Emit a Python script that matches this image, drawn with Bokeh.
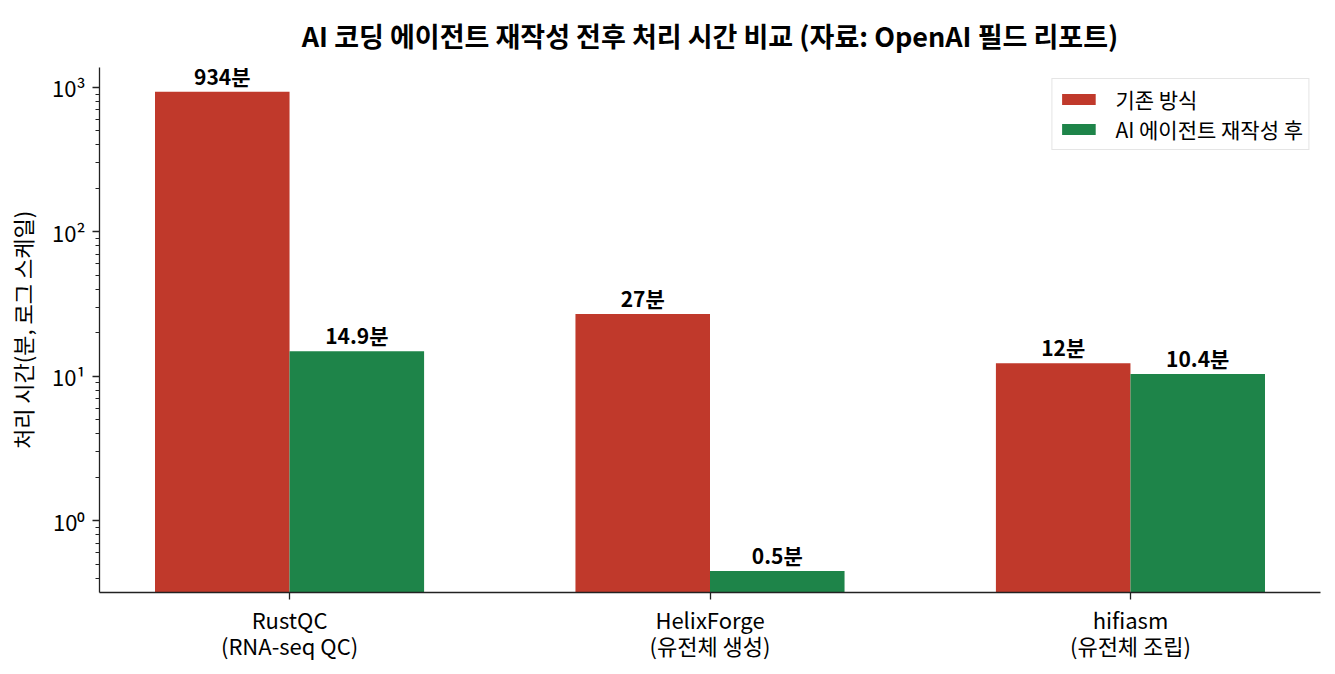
from bokeh.plotting import figure
from bokeh.models import Range1d, FixedTicker, LogTicker, Legend, LegendItem, ColumnDataSource, LinearAxis
from bokeh.core.properties import value
from bokeh.embed import file_html
from bokeh.resources import INLINE

cat_names = ["RustQC", "HelixForge", "hifiasm"]
cat_subtitles = ["(RNA-seq QC)", "(유전체 생성)", "(유전체 조립)"]
before_vals = [934, 27, 12.3]
after_vals = [14.9, 0.45, 10.4]
before_labels = ["934분", "27분", "12분"]
after_labels = ["14.9분", "0.5분", "10.4분"]
series_names = ["기존 방식", "AI 에이전트 재작성 후"]
colors = ["#c0392b", "#1e8449"]
title_text = "AI 코딩 에이전트 재작성 전후 처리 시간 비교 (자료: OpenAI 필드 리포트)"
y_label = "처리 시간(분, 로그 스케일)"
y_ticks = [1, 10, 100, 1000]
y_tick_labels = ["10⁰", "10¹", "10²", "10³"]

FONT = "Noto Sans CJK KR"
bar_w = 0.32
xs = list(range(len(cat_names)))

p = figure(width=1335, height=674, y_axis_type="log",
           x_range=Range1d(-0.452, 2.452), y_range=Range1d(0.319, 1374),
           output_backend="svg", toolbar_location=None,
           min_border_left=99, min_border_right=15, min_border_top=66, min_border_bottom=82)

p.title.text = title_text
p.title.align = "center"
p.title.text_font = FONT
p.title.text_font_style = "bold"
p.title.text_font_size = "27px"
p.title.text_color = "#000000"
p.title.standoff = 26

src_b = ColumnDataSource(dict(x=[x - bar_w / 2 for x in xs], top=before_vals, lab=before_labels))
src_a = ColumnDataSource(dict(x=[x + bar_w / 2 for x in xs], top=after_vals, lab=after_labels))

r1 = p.vbar(x="x", top="top", bottom=0.001, width=bar_w, source=src_b, fill_color=colors[0], line_color=None)
r2 = p.vbar(x="x", top="top", bottom=0.001, width=bar_w, source=src_a, fill_color=colors[1], line_color=None)

for src in (src_b, src_a):
    p.text(x="x", y="top", text="lab", source=src, text_align="center", text_baseline="bottom",
           y_offset=-1, text_font=value(FONT), text_font_style="bold", text_font_size="21px",
           text_color="#000000")

legend = Legend(items=[LegendItem(label=series_names[0], renderers=[r1]),
                       LegendItem(label=series_names[1], renderers=[r2])],
                location="top_right", label_text_font=FONT, label_text_font_size="21px",
                label_text_color="#000000",
                glyph_width=42, glyph_height=14, label_standoff=16, spacing=0,
                padding=5, margin=11, border_line_color="#cccccc", border_line_width=1.5,
                background_fill_alpha=1.0)
p.add_layout(legend)

p.xaxis.ticker = FixedTicker(ticks=xs)
p.xaxis.major_label_overrides = {i: c for i, c in zip(xs, cat_names)}
p.xaxis.major_label_standoff = 3
p.yaxis.ticker = LogTicker(num_minor_ticks=10)
p.yaxis.major_label_overrides = {t: l for t, l in zip(y_ticks, y_tick_labels)}
p.yaxis.axis_label = y_label
p.yaxis.major_label_standoff = 7
p.yaxis.axis_label_standoff = 11

sub_axis = LinearAxis(ticker=FixedTicker(ticks=xs),
                      major_label_overrides={i: c for i, c in zip(xs, cat_subtitles)},
                      axis_line_color=None, major_tick_line_color=None, minor_tick_line_color=None,
                      major_label_standoff=-15)
p.add_layout(sub_axis, "below")

for ax in (p.xaxis[0], p.yaxis[0], sub_axis):
    ax.major_label_text_font = FONT
    ax.major_label_text_font_size = "22px"
    ax.major_label_text_color = "#000000"
    ax.axis_label_text_font = FONT
    ax.axis_label_text_font_size = "22px"
    ax.axis_label_text_font_style = "normal"
    ax.axis_label_text_color = "#000000"

for ax in (p.xaxis[0], p.yaxis[0]):
    ax.axis_line_color = "#222222"
    ax.axis_line_width = 1.3
    ax.major_tick_line_color = "#222222"
    ax.minor_tick_line_color = "#222222"
    ax.major_tick_line_width = 1.3
    ax.minor_tick_line_width = 1.0
    ax.major_tick_in = 0
    ax.major_tick_out = 7
    ax.minor_tick_in = 0
    ax.minor_tick_out = 4
p.xaxis[0].minor_tick_line_color = None

p.xgrid.visible = False
p.ygrid.visible = False
p.outline_line_color = None

open("out.html", "w").write(file_html(p, INLINE))
